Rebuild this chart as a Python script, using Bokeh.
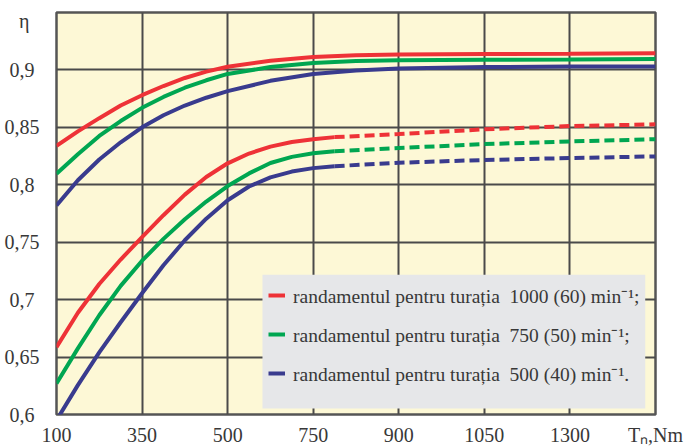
from bokeh.plotting import figure
from bokeh.models import FixedTicker, Legend, LegendItem, Range1d, BoxAnnotation
from bokeh.embed import file_html
from bokeh.resources import INLINE

# x axis: evenly spaced grid positions labelled with torque values (Nm)
x_tick_pos = [0, 1, 2, 3, 4, 5, 6, 7]
x_tick_labels = ["100", "350", "500", "750", "900", "1050", "1300", "T\u2099,Nm"]
y_ticks = [0.6, 0.65, 0.7, 0.75, 0.8, 0.85, 0.9]
y_tick_labels = ["0,6", "0,65", "0,7", "0,75", "0,8", "0,85", "0,9"]
y_name_pos = 0.943
y_name = "η"

# upper family of curves (solid)
x_up = [0, 0.25, 0.5, 0.75, 1, 1.25, 1.5, 1.75, 2, 2.5, 3, 3.5, 4, 5, 6, 7]
eta_up_1000 = [0.834, 0.8465, 0.858, 0.869, 0.878, 0.886, 0.893, 0.8985, 0.9028,
               0.908, 0.9112, 0.9128, 0.9135, 0.9138, 0.914, 0.9145]
eta_up_750 = [0.8095, 0.8265, 0.8425, 0.8555, 0.867, 0.8765, 0.8845, 0.891, 0.8965,
              0.9025, 0.906, 0.9077, 0.9085, 0.9088, 0.909, 0.9095]
eta_up_500 = [0.782, 0.804, 0.822, 0.837, 0.85, 0.8605, 0.869, 0.8758, 0.8815,
              0.8905, 0.8965, 0.8995, 0.9013, 0.9025, 0.903, 0.903]

# lower family of curves (solid, then dashed from index 13 on)
x_lo = [0, 0.25, 0.5, 0.75, 1, 1.25, 1.5, 1.75, 2, 2.25, 2.5, 2.75, 3, 3.25, 4, 5, 6, 7]
eta_lo_1000 = [0.6586, 0.6886, 0.7136, 0.7349, 0.7545, 0.7735, 0.7914, 0.8068, 0.8187,
               0.8272, 0.8332, 0.8372, 0.8397, 0.8415, 0.8442, 0.8483, 0.8511, 0.8526]
eta_lo_750 = [0.627, 0.6576, 0.6864, 0.712, 0.7339, 0.7529, 0.77, 0.7854, 0.7989,
              0.8099, 0.819, 0.8243, 0.8275, 0.8292, 0.832, 0.8354, 0.8377, 0.8397]
eta_lo_500 = [0.595, 0.6256, 0.6541, 0.6803, 0.7056, 0.7299, 0.7517, 0.7705, 0.7865,
              0.7985, 0.8065, 0.8115, 0.8145, 0.8162, 0.8192, 0.8216, 0.8233, 0.8247]
split = 13

labels = ["randamentul pentru turația  1000 (60) min\u207b\u00b9;",
          "randamentul pentru turația  750 (50) min\u207b\u00b9;",
          "randamentul pentru turația  500 (40) min\u207b\u00b9."]
colors = ["#ee3237", "#00a651", "#393b8e"]

p = figure(width=692, height=448, output_backend="svg", toolbar_location=None,
           x_range=Range1d(0, 7), y_range=Range1d(0.6, 0.95),
           min_border_left=56, min_border_right=37, min_border_top=12, min_border_bottom=29)
p.background_fill_color = "#fdf8d6"
p.border_fill_color = "white"
p.outline_line_color = "#555555"
p.outline_line_width = 2.5

for ax in (p.xaxis, p.yaxis):
    ax.axis_line_color = None
    ax.major_tick_line_color = None
    ax.minor_tick_line_color = None
    ax.major_label_text_font = "Liberation Serif"
    ax.major_label_text_font_size = "20px"
    ax.major_label_text_color = "#383838"

pad = "\u2005"
p.xaxis.ticker = FixedTicker(ticks=x_tick_pos)
p.xaxis.major_label_overrides = {t: l for t, l in zip(x_tick_pos, x_tick_labels)}
p.xaxis.major_label_standoff = 3
p.yaxis.ticker = FixedTicker(ticks=y_ticks + [y_name_pos])
y_over = {t: (l if len(l) == 4 else l + pad) for t, l in zip(y_ticks, y_tick_labels)}
y_over[y_name_pos] = y_name + pad * 2
p.yaxis.major_label_overrides = y_over
p.yaxis.major_label_standoff = 11

p.xgrid.ticker = FixedTicker(ticks=x_tick_pos)
p.ygrid.ticker = FixedTicker(ticks=y_ticks)
p.grid.grid_line_color = "#4a4a4a"
p.grid.grid_line_width = 2

# legend background panel
p.add_layout(BoxAnnotation(left=2.407, right=6.88, bottom=0.6052, top=0.7216,
                           fill_color="#e6e7e9", fill_alpha=1, line_color=None))

items = []
ups = [eta_up_1000, eta_up_750, eta_up_500]
los = [eta_lo_1000, eta_lo_750, eta_lo_500]
for up, lo, c, lab in zip(ups, los, colors, labels):
    r = p.line(x_up, up, line_color=c, line_width=4)
    p.line(x_lo[:split + 1], lo[:split + 1], line_color=c, line_width=4)
    p.line(x_lo[split:], lo[split:], line_color=c, line_width=4, line_dash="10 5")
    items.append(LegendItem(label=lab, renderers=[r]))

legend = Legend(items=items, location=(212, 26), margin=0, padding=0,
                glyph_width=17, glyph_height=30, label_height=30, spacing=9,
                label_standoff=8, label_text_font="Liberation Serif",
                label_text_font_size="19.5px", label_text_color="#383838",
                background_fill_alpha=0, border_line_color=None)
p.add_layout(legend)

open("out.html", "w").write(file_html(p, INLINE))
